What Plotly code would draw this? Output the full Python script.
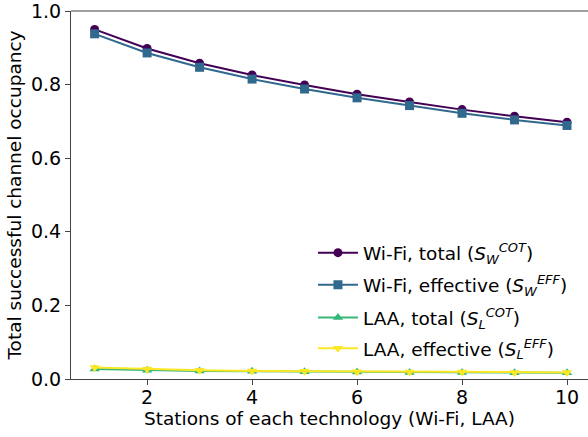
import plotly.graph_objects as go

stations = [1, 2, 3, 4, 5, 6, 7, 8, 9, 10]
wifi_total = [0.950, 0.898, 0.858, 0.826, 0.799, 0.774, 0.753, 0.732, 0.714, 0.698]
wifi_eff = [0.938, 0.886, 0.847, 0.815, 0.788, 0.764, 0.743, 0.722, 0.704, 0.689]
laa_total = [0.027, 0.024, 0.022, 0.021, 0.020, 0.019, 0.018, 0.018, 0.017, 0.017]
laa_eff = [0.031, 0.027, 0.024, 0.022, 0.021, 0.020, 0.019, 0.019, 0.018, 0.018]

series = [
    ("Wi-Fi, total (<i>S</i><sub><i>W</i></sub><sup><i>COT</i></sup>)", wifi_total, "#440154", "circle"),
    ("Wi-Fi, effective (<i>S</i><sub><i>W</i></sub><sup><i>EFF</i></sup>)", wifi_eff, "#31688e", "square"),
    ("LAA, total (<i>S</i><sub><i>L</i></sub><sup><i>COT</i></sup>)", laa_total, "#35b779", "triangle-up"),
    ("LAA, effective (<i>S</i><sub><i>L</i></sub><sup><i>EFF</i></sup>)", laa_eff, "#fde725", "triangle-down"),
]
legend_ids = ["legend", "legend2", "legend3", "legend4"]
legend_y = [0.342, 0.255, 0.166, 0.082]

fig = go.Figure()
for (name, vals, color, sym), lid in zip(series, legend_ids):
    fig.add_trace(go.Scatter(x=stations, y=vals, name=name, mode="lines+markers",
                             line=dict(color=color, width=2),
                             marker=dict(symbol=sym, size=9, color=color),
                             legend=lid))

axis_style = dict(showline=True, linecolor="#444", linewidth=1.2, ticks="outside",
                  ticklen=5, tickcolor="#444", showgrid=False, zeroline=False,
                  ticklabeloverflow="allow", tickfont=dict(size=19, color="black"))

legends = {}
for lid, ly in zip(legend_ids, legend_y):
    legends[lid] = dict(x=0.468, y=ly, xanchor="left", yanchor="middle",
                        bgcolor="rgba(0,0,0,0)", font=dict(size=18.5), itemwidth=40)

fig.update_layout(
    width=588, height=437,
    margin=dict(l=71, r=0, t=11, b=58),
    plot_bgcolor="white", paper_bgcolor="white",
    font=dict(family="DejaVu Sans", size=19, color="black"),
    xaxis=dict(range=[0.55, 10.40], tickvals=[2, 4, 6, 8, 10],
               ticklabelstandoff=-4,
               title=dict(text="Stations of each technology (Wi-Fi, LAA)", standoff=2,
                          font=dict(size=18.5)), **axis_style),
    yaxis=dict(range=[0, 1.0], tickvals=[0, 0.2, 0.4, 0.6, 0.8, 1.0], tickformat=".1f",
               title=dict(text="Total successful channel occupancy", standoff=4,
                          font=dict(size=18.5)), **axis_style),
    showlegend=True,
    **legends,
)

# top spine
fig.add_shape(type="line", xref="paper", yref="paper", x0=0, x1=1, y0=1, y1=1,
              line=dict(color="#444", width=1.2), layer="above")

# drop the browser's default page margin so the figure sits at (0, 0)
fig.write_html("out.html", config={"displayModeBar": False},
               post_script="document.body.style.margin='0';")
